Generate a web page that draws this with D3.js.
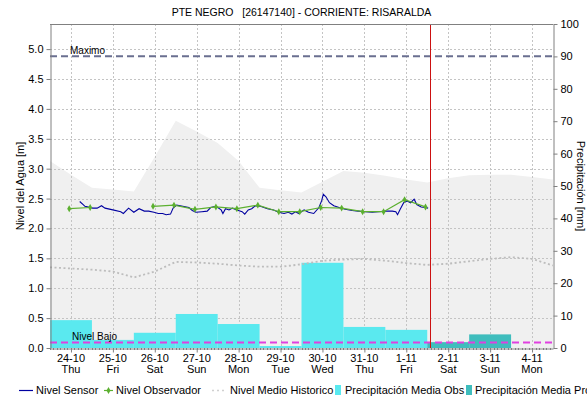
<!DOCTYPE html>
<html>
<head>
<meta charset="utf-8">
<script src="https://cdn.jsdelivr.net/npm/d3@7"></script>
<style>
  body { margin: 0; background: #fff; }
  svg text { font-family: "Liberation Sans", Arial, sans-serif; fill: #000; }
</style>
</head>
<body>
<svg id="chart" width="587" height="401"></svg>
<script>
// Station header
const title = "PTE NEGRO   [26147140] - CORRIENTE: RISARALDA";

// Water level thresholds [m]
const nivelMaximo = 4.88;
const nivelBajo = 0.09;

// Current time marker
const ahora = "2019-11-01 13:40";

// Daily ticks of the time axis
const dias = ["2019-10-24", "2019-10-25", "2019-10-26", "2019-10-27", "2019-10-28", "2019-10-29",
              "2019-10-30", "2019-10-31", "2019-11-01", "2019-11-02", "2019-11-03", "2019-11-04"];

// Observed daily precipitation [mm]
const precipObsDias = ["2019-10-24", "2019-10-25", "2019-10-26", "2019-10-27", "2019-10-28",
                       "2019-10-29", "2019-10-30", "2019-10-31", "2019-11-01"];
const precipObs = [8.6, 2.5, 4.7, 10.5, 7.4, 0.6, 26.3, 6.5, 5.6];

// Forecast daily precipitation [mm]
const precipProDias = ["2019-11-02", "2019-11-03", "2019-11-04"];
const precipPro = [1.8, 4.2, 0];

// Historical envelope (upper bound) and historical mean level [m], every 12 h
const historicoTiempos = ["2019-10-23 12:00", "2019-10-24 00:00", "2019-10-24 12:00", "2019-10-25 00:00",
  "2019-10-25 12:00", "2019-10-26 00:00", "2019-10-26 12:00", "2019-10-27 00:00", "2019-10-27 12:00",
  "2019-10-28 00:00", "2019-10-28 12:00", "2019-10-29 00:00", "2019-10-29 12:00", "2019-10-30 00:00",
  "2019-10-30 12:00", "2019-10-31 00:00", "2019-10-31 12:00", "2019-11-01 00:00", "2019-11-01 12:00",
  "2019-11-02 00:00", "2019-11-02 12:00", "2019-11-03 00:00", "2019-11-03 12:00", "2019-11-04 00:00",
  "2019-11-04 12:00"];
const historicoMax = [3.13, 2.90, 2.68, 2.65, 2.62, 3.20, 3.80, 3.62, 3.43, 3.13, 2.68, 2.64, 2.60,
  2.78, 2.96, 2.93, 2.88, 2.82, 2.77, 2.84, 2.89, 2.90, 2.90, 2.86, 2.82];
const historicoMedio = [1.35, 1.33, 1.31, 1.28, 1.18, 1.28, 1.44, 1.43, 1.41, 1.38, 1.36, 1.36, 1.40,
  1.46, 1.48, 1.49, 1.46, 1.42, 1.39, 1.41, 1.45, 1.49, 1.52, 1.49, 1.38];

// Sensor level [m]
const sensorTiempos = ["2019-10-24 05:00", "2019-10-24 07:00", "2019-10-24 08:00", "2019-10-24 12:30",
  "2019-10-24 15:00", "2019-10-24 17:30", "2019-10-24 19:30", "2019-10-25 00:00", "2019-10-25 04:30",
  "2019-10-25 06:00", "2019-10-25 09:00", "2019-10-25 12:00", "2019-10-25 15:00", "2019-10-25 18:00",
  "2019-10-25 20:30", "2019-10-25 23:30", "2019-10-26 02:00", "2019-10-26 04:30", "2019-10-26 06:30",
  "2019-10-26 09:00", "2019-10-26 10:30", "2019-10-26 12:30", "2019-10-26 16:00", "2019-10-26 19:30",
  "2019-10-26 21:30", "2019-10-26 23:30", "2019-10-27 03:00", "2019-10-27 06:00", "2019-10-27 08:00",
  "2019-10-27 11:00", "2019-10-27 14:00", "2019-10-27 15:00", "2019-10-27 16:30", "2019-10-27 18:30",
  "2019-10-27 20:30", "2019-10-27 23:00", "2019-10-28 02:00", "2019-10-28 03:30", "2019-10-28 05:30",
  "2019-10-28 07:30", "2019-10-28 09:30", "2019-10-28 12:30", "2019-10-28 16:30", "2019-10-28 20:00",
  "2019-10-28 23:00", "2019-10-29 02:00", "2019-10-29 04:30", "2019-10-29 06:30", "2019-10-29 08:30",
  "2019-10-29 10:30", "2019-10-29 13:30", "2019-10-29 16:00", "2019-10-29 19:00", "2019-10-29 22:00",
  "2019-10-29 23:30", "2019-10-30 00:30", "2019-10-30 02:00", "2019-10-30 04:00", "2019-10-30 06:30",
  "2019-10-30 09:30", "2019-10-30 13:00", "2019-10-30 17:00", "2019-10-30 20:30", "2019-10-31 00:30",
  "2019-10-31 04:30", "2019-10-31 08:00", "2019-10-31 12:00", "2019-10-31 16:00", "2019-10-31 18:00",
  "2019-10-31 19:00", "2019-10-31 20:30", "2019-10-31 22:30", "2019-11-01 00:30", "2019-11-01 02:30",
  "2019-11-01 04:30", "2019-11-01 06:00", "2019-11-01 08:30", "2019-11-01 11:00", "2019-11-01 12:30"];
const sensorNivel = [2.45, 2.40, 2.37, 2.34, 2.34, 2.38, 2.34, 2.31, 2.28, 2.25, 2.34, 2.27, 2.33, 2.29,
  2.29, 2.27, 2.25, 2.25, 2.23, 2.24, 2.34, 2.39, 2.37, 2.35, 2.30, 2.27, 2.28, 2.29, 2.35, 2.37, 2.31,
  2.25, 2.33, 2.31, 2.34, 2.31, 2.28, 2.24, 2.31, 2.33, 2.38, 2.37, 2.33, 2.31, 2.27, 2.25, 2.27, 2.24,
  2.28, 2.25, 2.31, 2.27, 2.25, 2.35, 2.46, 2.57, 2.53, 2.43, 2.38, 2.35, 2.32, 2.30, 2.29, 2.28, 2.27,
  2.28, 2.29, 2.29, 2.28, 2.23, 2.32, 2.43, 2.46, 2.43, 2.49, 2.40, 2.36, 2.35, 2.34];

// Observer readings [m]; null = no reading
const observadorTiempos = ["2019-10-23 23:00", "2019-10-24 11:00", "2019-10-24 23:00", "2019-10-25 11:00",
  "2019-10-25 23:00", "2019-10-26 11:00", "2019-10-26 23:00", "2019-10-27 11:00", "2019-10-27 23:00",
  "2019-10-28 11:00", "2019-10-28 23:00", "2019-10-29 11:00", "2019-10-29 23:00", "2019-10-30 11:00",
  "2019-10-30 23:00", "2019-10-31 11:00", "2019-10-31 23:00", "2019-11-01 11:00"];
const observadorNivel = [2.33, 2.35, null, null, 2.37, 2.39, 2.32, 2.36, 2.33, 2.39, 2.28, 2.28,
  2.35, 2.34, 2.28, 2.28, 2.48, 2.36];

const legendItems = ["Nivel Sensor", "Nivel Observador", "Nivel Medio Historico",
                     "Precipitación Media Obs", "Precipitación Media Pro"];

// ---------------------------------------------------------------------------
const parseT = d3.timeParse("%Y-%m-%d %H:%M");
const parseD = d3.timeParse("%Y-%m-%d");

const C = {
  sensor: "#0000a0",
  obs: "#5cb030",
  medio: "#bdbdbd",
  banda: "#f0f0f0",
  precipObs: "#5ae9ef",
  precipPro: "#3fbdbd",
  maximo: "#6a6f90",
  bajo: "#e040e0",
  ahora: "#cc1111",
  grid: "#c4c4c4",
  axis: "#808080"
};

const plot = { left: 50, right: 553, top: 24, bottom: 348 };

const svg = d3.select("#chart");

const x = d3.scaleTime()
  .domain([parseT("2019-10-23 12:00"), parseT("2019-11-04 12:00")])
  .range([plot.left, plot.right]);
const yL = d3.scaleLinear().domain([0, 5.42]).range([plot.bottom, plot.top]);
const yR = d3.scaleLinear().domain([0, 100]).range([plot.bottom, plot.top]);

const defs = svg.append("defs");
defs.append("clipPath").attr("id", "plotClip").append("rect")
  .attr("x", plot.left).attr("y", plot.top)
  .attr("width", plot.right - plot.left).attr("height", plot.bottom - plot.top);

const g = svg.append("g").attr("clip-path", "url(#plotClip)");

// Historical envelope
const hist = historicoTiempos.map((t, i) => ({ t: parseT(t), max: historicoMax[i], med: historicoMedio[i] }));
g.append("path")
  .datum(hist)
  .attr("fill", C.banda)
  .attr("d", d3.area().x(d => x(d.t)).y0(yL(0)).y1(d => yL(d.max)));

// Grid
const dayDates = dias.map(parseD);
const levelTicks = d3.range(0.5, 5.01, 0.5);
g.append("g").selectAll("line").data(levelTicks).join("line")
  .attr("x1", plot.left).attr("x2", plot.right)
  .attr("y1", d => Math.round(yL(d)) + 0.5).attr("y2", d => Math.round(yL(d)) + 0.5)
  .attr("stroke", C.grid).attr("stroke-dasharray", "2,2");
g.append("g").selectAll("line").data(dayDates).join("line")
  .attr("x1", d => Math.round(x(d)) + 0.5).attr("x2", d => Math.round(x(d)) + 0.5)
  .attr("y1", plot.top).attr("y2", plot.bottom)
  .attr("stroke", C.grid).attr("stroke-dasharray", "2,2");

// Precipitation bars, one day wide, centred on the day tick
function drawBars(days, vals, color) {
  const data = days.map((d, i) => ({ d: parseD(d), v: vals[i] })).filter(o => o.v > 0);
  g.append("g").selectAll("rect").data(data).join("rect")
    .attr("x", o => x(d3.timeHour.offset(o.d, -12)))
    .attr("width", o => x(d3.timeHour.offset(o.d, 12)) - x(d3.timeHour.offset(o.d, -12)))
    .attr("y", o => yR(o.v))
    .attr("height", o => yR(0) - yR(o.v))
    .attr("fill", color);
}
drawBars(precipObsDias, precipObs, C.precipObs);
drawBars(precipProDias, precipPro, C.precipPro);

// Historical mean level
g.append("path")
  .datum(hist)
  .attr("fill", "none").attr("stroke", C.medio).attr("stroke-width", 1.8)
  .attr("stroke-dasharray", "2,2.5")
  .attr("d", d3.line().x(d => x(d.t)).y(d => yL(d.med)));

// Threshold lines
g.append("line")
  .attr("x1", plot.left).attr("x2", plot.right)
  .attr("y1", yL(nivelMaximo)).attr("y2", yL(nivelMaximo))
  .attr("stroke", C.maximo).attr("stroke-width", 2).attr("stroke-dasharray", "7,4");
g.append("line")
  .attr("x1", plot.left).attr("x2", plot.right)
  .attr("y1", yL(nivelBajo)).attr("y2", yL(nivelBajo))
  .attr("stroke", C.bajo).attr("stroke-width", 2).attr("stroke-dasharray", "7,4");
svg.append("text").attr("x", 70).attr("y", yL(nivelMaximo) - 2)
  .attr("font-size", 10).text("Maximo");
svg.append("text").attr("x", 72).attr("y", yL(nivelBajo) - 3)
  .attr("font-size", 10).text("Nivel Bajo");

// Sensor level
const sensor = sensorTiempos.map((t, i) => ({ t: parseT(t), v: sensorNivel[i] }));
g.append("path")
  .datum(sensor)
  .attr("fill", "none").attr("stroke", C.sensor).attr("stroke-width", 1.1)
  .attr("d", d3.line().x(d => x(d.t)).y(d => yL(d.v)));

// Observer readings
const obs = observadorTiempos.map((t, i) => ({ t: parseT(t), v: observadorNivel[i] }));
g.append("path")
  .datum(obs)
  .attr("fill", "none").attr("stroke", C.obs).attr("stroke-width", 1.2)
  .attr("d", d3.line().defined(d => d.v !== null).x(d => x(d.t)).y(d => yL(d.v)));
g.append("g").selectAll("path").data(obs.filter(d => d.v !== null)).join("path")
  .attr("transform", d => `translate(${x(d.t)},${yL(d.v)})`)
  .attr("d", d3.symbol(d3.symbolDiamond, 14))
  .attr("fill", C.obs);

// Current time
svg.append("line")
  .attr("x1", Math.round(x(parseT(ahora))) + 0.5).attr("x2", Math.round(x(parseT(ahora))) + 0.5)
  .attr("y1", plot.top).attr("y2", plot.bottom)
  .attr("stroke", C.ahora).attr("stroke-width", 1);

// Frame
svg.append("line").attr("x1", plot.left).attr("x2", plot.right)
  .attr("y1", plot.top + 0.5).attr("y2", plot.top + 0.5).attr("stroke", C.axis);

// Axes
function styleAxis(sel) {
  sel.selectAll(".domain").attr("stroke", C.axis);
  sel.selectAll(".tick line").attr("stroke", C.axis);
  sel.selectAll(".tick text").attr("font-size", 11).attr("fill", "#000")
    .attr("font-family", "'Liberation Sans', Arial, sans-serif");
}

svg.append("g").attr("transform", `translate(${plot.left + 0.5},0)`)
  .call(d3.axisLeft(yL).tickValues(d3.range(0, 5.01, 0.5)).tickFormat(d3.format(".1f"))
    .tickSize(4).tickSizeOuter(0).tickPadding(3))
  .call(styleAxis);

svg.append("g").attr("transform", `translate(${plot.right + 0.5},0)`)
  .call(d3.axisRight(yR).tickValues(d3.range(0, 101, 10)).tickFormat(d3.format("d"))
    .tickSize(4).tickSizeOuter(0).tickPadding(3))
  .call(styleAxis);

// Minor ticks every two hours along the time axis
svg.append("g").selectAll("line")
  .data(d3.timeHour.every(2).range(x.domain()[0], x.domain()[1]))
  .join("line")
  .attr("x1", d => Math.round(x(d)) + 0.5).attr("x2", d => Math.round(x(d)) + 0.5)
  .attr("y1", plot.bottom).attr("y2", plot.bottom + 2)
  .attr("stroke", C.axis);

svg.append("g").attr("transform", `translate(0,${plot.bottom + 0.5})`)
  .call(d3.axisBottom(x).tickValues(dayDates).tickFormat("").tickSize(4).tickSizeOuter(0))
  .call(styleAxis);

const fmtDia = d3.timeFormat("%-d-%m");
const fmtSemana = d3.timeFormat("%a");
const xLabels = svg.append("g").selectAll("text").data(dayDates).join("text")
  .attr("x", d => x(d)).attr("text-anchor", "middle").attr("font-size", 11);
xLabels.append("tspan").attr("x", d => x(d)).attr("y", 362).text(d => fmtDia(d));
xLabels.append("tspan").attr("x", d => x(d)).attr("y", 373).text(d => fmtSemana(d));

// Titles
svg.append("text").attr("x", (plot.left + plot.right) / 2).attr("y", 16)
  .attr("text-anchor", "middle").attr("font-size", 10.5)
  .style("white-space", "pre").text(title);

svg.append("text")
  .attr("transform", `translate(24,${(plot.top + plot.bottom) / 2}) rotate(-90)`)
  .attr("text-anchor", "middle").attr("font-size", 11)
  .text("Nivel del Agua [m]");

svg.append("text")
  .attr("transform", `translate(577,${(plot.top + plot.bottom) / 2}) rotate(90)`)
  .attr("text-anchor", "middle").attr("font-size", 11)
  .text("Precipitación [mm]");

// Legend
const leg = svg.append("g").attr("font-size", 11);
const ly = 394;
leg.append("line").attr("x1", 19).attr("x2", 33).attr("y1", ly - 3.5).attr("y2", ly - 3.5)
  .attr("stroke", C.sensor).attr("stroke-width", 1.2);
leg.append("text").attr("x", 36).attr("y", ly).text(legendItems[0]);

leg.append("line").attr("x1", 104).attr("x2", 113).attr("y1", ly - 3.5).attr("y2", ly - 3.5)
  .attr("stroke", C.obs).attr("stroke-width", 1.2);
leg.append("path").attr("transform", `translate(108.5,${ly - 3.5})`)
  .attr("d", d3.symbol(d3.symbolDiamond, 14)).attr("fill", C.obs);
leg.append("text").attr("x", 116).attr("y", ly).text(legendItems[1]);

leg.append("line").attr("x1", 212).attr("x2", 226).attr("y1", ly - 3.5).attr("y2", ly - 3.5)
  .attr("stroke", "#d0d0d0").attr("stroke-width", 1.4).attr("stroke-dasharray", "2,3");
leg.append("text").attr("x", 230).attr("y", ly).text(legendItems[2]);

leg.append("rect").attr("x", 335).attr("y", ly - 9).attr("width", 6).attr("height", 10)
  .attr("fill", C.precipObs);
leg.append("text").attr("x", 345).attr("y", ly).text(legendItems[3]);

leg.append("rect").attr("x", 466).attr("y", ly - 9).attr("width", 6).attr("height", 10)
  .attr("fill", C.precipPro);
leg.append("text").attr("x", 475).attr("y", ly).text(legendItems[4]);
</script>
</body>
</html>
